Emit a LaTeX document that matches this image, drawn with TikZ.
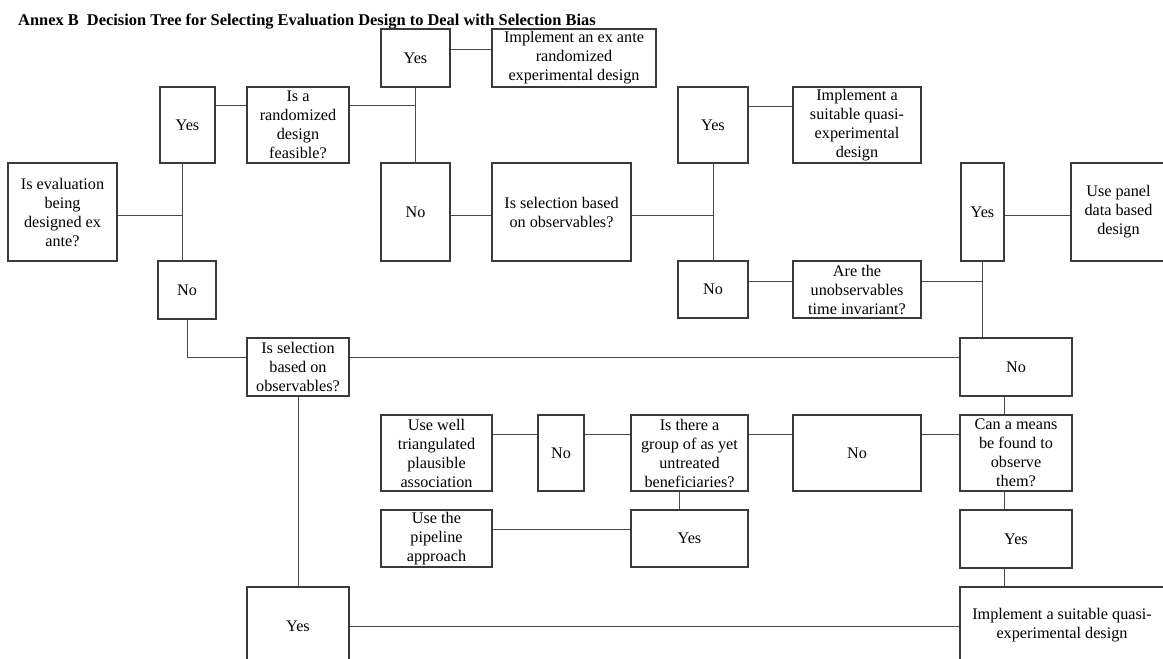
\documentclass[tikz,border=0pt]{standalone}
\usepackage{fontspec}
\setmainfont{Liberation Serif}
\definecolor{boxline}{HTML}{3A3A3A}
\definecolor{conline}{HTML}{4A4A4A}
\tikzset{
  box/.style={draw=boxline, line width=1.1pt, inner sep=0pt, align=center,
    font=\fontsize{16.2}{19}\selectfont, text=black},
  con/.style={draw=conline, line width=1pt},
}
\newcommand{\bx}[6]{\node[box, minimum width=#4pt, minimum height=#5pt] (#1) at (#2,#3) {#6};}
\begin{document}
\begin{tikzpicture}[x=1pt,y=-1pt]
\useasboundingbox (0,0) rectangle (1163,659);
\clip (0,0) rectangle (1163,659);
\node[anchor=base west, inner sep=0pt, font=\bfseries\fontsize{16.4}{19}\selectfont] (title) at (18,25)
  {Annex B\enspace Decision Tree for Selecting Evaluation Design to Deal with Selection Bias};

\bx{Q1}{62.5}{212}{109}{98}{Is evaluation\\being\\designed ex\\ante?}
\bx{Yes1}{187.5}{125}{55}{76}{Yes}
\bx{No1}{187}{290}{58}{58}{No}
\bx{Q2}{298}{125}{102}{76}{Is a\\randomized\\design\\feasible?}
\bx{Yes2}{415.5}{58}{69}{58}{Yes}
\bx{Impl1}{574}{58}{164}{58}{Implement an ex ante\\randomized\\experimental design}
\bx{No2}{415.5}{212}{69}{98}{No}
\bx{Q3}{561.5}{212}{139}{98}{Is selection based\\on observables?}
\bx{Yes3}{713}{125}{70}{76}{Yes}
\bx{ImplQ1}{857}{125}{128}{76}{Implement a\\suitable quasi-\\experimental\\design}
\bx{No3}{713}{289.5}{70}{57}{No}
\bx{Q4}{857}{289.5}{128}{57}{Are the\\unobservables\\time invariant?}
\bx{Yes4}{982.5}{212}{43}{98}{Yes}
\bx{Panel}{1118.5}{212}{95}{98}{Use panel\\data based\\design}
\bx{Q5}{298}{367}{102}{58}{Is selection\\based on\\observables?}
\bx{No4}{1016}{367}{112}{58}{No}
\bx{UseWell}{436.5}{453}{111}{76}{Use well\\triangulated\\plausible\\association}
\bx{No6}{561}{453}{46}{76}{No}
\bx{Q7}{689.5}{453}{117}{76}{Is there a\\group of as yet\\untreated\\beneficiaries?}
\bx{No5}{857}{453}{128}{76}{No}
\bx{Q6}{1016}{453}{112}{76}{Can a means\\be found to\\observe\\them?}
\bx{Pipeline}{436.5}{538.5}{111}{57}{Use the\\pipeline\\approach}
\bx{Yes7}{689.5}{538.5}{117}{57}{Yes}
\bx{Yes6}{1016}{539}{112}{58}{Yes}
\bx{Yes5}{298}{626}{102}{78}{Yes}
\bx{ImplQ2}{1062}{625}{204}{76}{Implement a suitable quasi-\\experimental design}

% trunk A
\coordinate (A1) at ([xshift=-5pt]Yes1.south);
\draw[con] (A1) -- (A1 |- No1.north);
\draw[con] ([yshift=-3pt]Q1.east) -- ([yshift=-3pt]Q1.east -| A1);
\draw[con] ([yshift=20pt]Yes1.east) -- ([yshift=20pt]Q2.west);
% trunk B
\draw[con] (Yes2.south) -- (No2.north);
\draw[con] ([yshift=20pt]Q2.east) -- ([yshift=20pt]Q2.east -| Yes2.south);
\draw[con] ([yshift=9pt]Yes2.east) -- ([yshift=9pt]Impl1.west);
\draw[con] ([yshift=-3pt]No2.east) -- ([yshift=-3pt]Q3.west);
% trunk C
\draw[con] (Yes3.south) -- (No3.north);
\draw[con] ([yshift=-3pt]Q3.east) -- ([yshift=-3pt]Q3.east -| Yes3.south);
\draw[con] ([yshift=19pt]Yes3.east) -- ([yshift=19pt]ImplQ1.west);
\draw[con] ([yshift=8.5pt]No3.east) -- ([yshift=8.5pt]Q4.west);
% trunk D
\draw[con] (Yes4.south) -- (Yes4.south |- No4.north);
\draw[con] ([yshift=8.5pt]Q4.east) -- ([yshift=8.5pt]Q4.east -| Yes4.south);
\draw[con] ([yshift=-3pt]Yes4.east) -- ([yshift=-3pt]Panel.west);
% lower part
\draw[con] (No1.south) |- ([yshift=10pt]Q5.west);
\draw[con] ([yshift=10pt]Q5.east) -- ([yshift=10pt]No4.west);
\draw[con] (Q5.south) -- (Yes5.north);
\draw[con] (Yes5.east) -- (Yes5.east -| ImplQ2.west);
\draw[con] ([xshift=-12pt]No4.south) -- ([xshift=-12pt]Q6.north);
\draw[con] ([xshift=-12pt]Q6.south) -- ([xshift=-12pt]Yes6.north);
\draw[con] ([xshift=-12pt]Yes6.south) -- ([xshift=-12pt]Yes6.south |- ImplQ2.north);
\draw[con] ([yshift=19pt]Q6.west) -- ([yshift=19pt]No5.east);
\draw[con] ([yshift=19pt]No5.west) -- ([yshift=19pt]Q7.east);
\draw[con] ([yshift=19pt]Q7.west) -- ([yshift=19pt]No6.east);
\draw[con] ([yshift=19pt]No6.west) -- ([yshift=19pt]UseWell.east);
\draw[con] ([xshift=-10.5pt]Q7.south) -- ([xshift=-10.5pt]Yes7.north);
\draw[con] ([yshift=9.5pt]Yes7.west) -- ([yshift=9.5pt]Pipeline.east);
\end{tikzpicture}
\end{document}
